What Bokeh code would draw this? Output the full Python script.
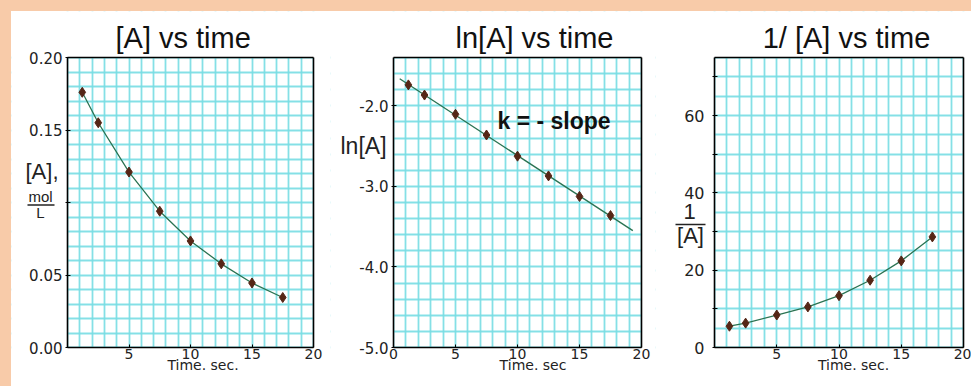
import numpy as np
from bokeh.plotting import figure
from bokeh.layouts import row, column
from bokeh.models import (Range1d, FixedTicker, PrintfTickFormatter, Label, Arrow, Spacer,
                          LinearAxis, BoxAnnotation)
from bokeh.embed import file_html
from bokeh.resources import INLINE

# ---- data ----
time_s = [1.2, 2.5, 5, 7.5, 10, 12.5, 15, 17.5]
conc_A = [0.176, 0.155, 0.121, 0.094, 0.0735, 0.0577, 0.0445, 0.0345]
ln_A = [-1.74, -1.866, -2.105, -2.362, -2.625, -2.87, -3.125, -3.362]
inv_A = [5.5, 6.3, 8.4, 10.5, 13.4, 17.4, 22.4, 28.6]
fit_t = [0.5, 19.3]

titles = ["[A]  vs time", "ln[A] vs time", "1/ [A] vs time"]
x_label_texts = ["Time. sec.", "Time. sec", "Time. sec."]

PEACH = "#F8CBA9"
GRID = "#78DDE3"
LINE = "#2A7352"
MARK = "#552616"
TICKFONT = "DejaVu Sans"
SANS = "Liberation Sans"
TOP_PAD, FIG_H = 11, 375
BOX_TOP, BOX_BOTTOM = 57, 347   # page pixels of the plot box


class Panel:
    def __init__(self, fig_left, width, box_l, box_r, box_x, box_y, ygrid_step,
                 xticks, yticks, yfmt, y_overrides, ytick_size="15px", ystandoff=3):
        self.fig_left, self.width = fig_left, width
        self.box_l, self.box_r = box_l, box_r
        self.bx, self.by = box_x, box_y
        sx = (box_x[1] - box_x[0]) / (box_r - box_l)
        sy = (box_y[1] - box_y[0]) / (BOX_BOTTOM - BOX_TOP)
        self.dx = lambda X: box_x[0] + (X - box_l) * sx
        self.dy = lambda Y: box_y[1] + (BOX_TOP - Y) * sy
        p = figure(width=width, height=FIG_H, output_backend="svg", toolbar_location=None,
                   x_range=Range1d(self.dx(fig_left), self.dx(fig_left + width)),
                   y_range=Range1d(self.dy(TOP_PAD + FIG_H), self.dy(TOP_PAD)),
                   min_border=0, min_border_left=0, min_border_right=0,
                   min_border_top=0, min_border_bottom=0,
                   background_fill_color="white", border_fill_color="white")
        p.outline_line_color = None
        xr, yr = p.x_range, p.y_range
        # grid
        p.xgrid.ticker = FixedTicker(ticks=list(np.arange(box_x[0], box_x[1] + 1e-9, 1.0)))
        p.ygrid.ticker = FixedTicker(ticks=list(np.arange(box_y[0], box_y[1] + 1e-9, ygrid_step)))
        for g in (p.xgrid, p.ygrid):
            g.grid_line_color = GRID
            g.grid_line_width = 1.8
            g.grid_line_alpha = 0.9
        # white masks outside the plot box
        masks = [dict(left=xr.start, right=box_x[0], bottom=yr.start, top=yr.end),
                 dict(left=box_x[1], right=xr.end, bottom=yr.start, top=yr.end),
                 dict(left=xr.start, right=xr.end, bottom=yr.start, top=box_y[0]),
                 dict(left=xr.start, right=xr.end, bottom=box_y[1], top=yr.end)]
        for m in masks:
            p.add_layout(BoxAnnotation(**m, fill_color="white", fill_alpha=1.0,
                                       line_color=None, level="glyph"))
        # axes at the box edges
        p.xaxis.fixed_location = box_y[0]
        p.xaxis.bounds = box_x
        p.yaxis.fixed_location = box_x[0]
        p.yaxis.bounds = box_y
        p.xaxis.ticker = FixedTicker(ticks=xticks)
        p.yaxis.ticker = FixedTicker(ticks=yticks)
        p.yaxis.formatter = PrintfTickFormatter(format=yfmt)
        if y_overrides:
            p.yaxis.major_label_overrides = y_overrides
        for ax in (p.xaxis, p.yaxis):
            ax.axis_line_color = "black"
            ax.axis_line_width = 1.6
            ax.major_tick_line_color = "black"
            ax.minor_tick_line_color = None
            ax.major_label_text_font = TICKFONT
            ax.major_label_text_color = "#222222"
        p.xaxis.major_tick_out = 0
        p.xaxis.major_tick_in = 3
        p.yaxis.major_tick_out = 2
        p.yaxis.major_tick_in = 3
        p.xaxis.major_label_text_font_size = "14px"
        p.yaxis.major_label_text_font_size = ytick_size
        p.xaxis.major_label_standoff = 1
        p.yaxis.major_label_standoff = ystandoff
        top_ax = LinearAxis(fixed_location=box_y[1], bounds=box_x, ticker=FixedTicker(ticks=[]),
                            major_label_text_font_size="0px", axis_line_width=1.6,
                            minor_tick_line_color=None, major_tick_line_color=None)
        right_ax = LinearAxis(fixed_location=box_x[1], bounds=box_y, ticker=FixedTicker(ticks=[]),
                              major_label_text_font_size="0px", axis_line_width=1.6,
                              minor_tick_line_color=None, major_tick_line_color=None)
        p.add_layout(top_ax, "above")
        p.add_layout(right_ax, "right")
        self.p = p

    def text(self, X, Y, s, font=SANS, size=20, align="left", style="normal", color="#222222"):
        # Y is the wanted baseline in page pixels
        yb = Y - 0.32 * size
        self.p.add_layout(Label(x=self.dx(X), y=self.dy(yb), text=s, text_font=font,
                                text_font_size=f"{size}px", text_align=align,
                                text_font_style=style, text_baseline="alphabetic",
                                text_color=color))

    def bar(self, X1, X2, Y, width=1.2):
        self.p.add_layout(Arrow(x_start=self.dx(X1), y_start=self.dy(Y), x_end=self.dx(X2),
                                y_end=self.dy(Y), start=None, end=None,
                                line_color="#222222", line_width=width))


# Panel 1: [A] vs time
P1 = Panel(11, 319, 67, 313, (0, 20), (0, 0.2), 0.01, [5, 10, 15, 20],
           [0, 0.05, 0.1, 0.15, 0.2], "%.2f", {0.1: ""})
p1 = P1.p
p1.line(time_s, conc_A, line_color=LINE, line_width=1.3)
p1.scatter(time_s, conc_A, marker="diamond", size=10, color=MARK)
P1.text(186.7, 47, titles[0], size=29, align="center", color="#111111")
P1.text(25, 178, "[A],", size=22)
P1.text(40, 201, "mol", size=15, align="center")
P1.bar(27, 54, 204.5, 1.4)
P1.text(40, 217, "L", size=15, align="center")
P1.text(202.5, 369, x_label_texts[0], font=TICKFONT, size=14, align="center")

# Panel 2: ln[A] vs time
P2 = Panel(330, 325, 393, 641, (0, 20), (-5, -1.4), 0.2, [0, 5, 10, 15, 20],
           [-5, -4, -3, -2], "%.1f", None)
p2 = P2.p
slope, intercept = np.polyfit(time_s, ln_A, 1)
fit_ln = [slope * t + intercept for t in fit_t]
p2.line(fit_t, fit_ln, line_color=LINE, line_width=1.3)
p2.scatter(time_s, ln_A, marker="diamond", size=10, color=MARK)
P2.text(534, 47, titles[1], size=29, align="center", color="#111111")
P2.text(340, 153, "ln[A]", size=23)
P2.text(497, 128, "k = - slope", size=23, style="bold", color="#111111")
P2.text(532.5, 369, x_label_texts[1], font=TICKFONT, size=14, align="center")

# Panel 3: 1/[A] vs time
P3 = Panel(655, 316, 714, 963, (0, 20), (0, 75), 5, [5, 10, 15, 20],
           [0, 10, 20, 30, 40, 50, 60, 70], "%d", {10: "", 30: "", 50: "", 70: ""},
           ytick_size="16px", ystandoff=8)
p3 = P3.p
p3.line(time_s, inv_A, line_color=LINE, line_width=1.3)
p3.scatter(time_s, inv_A, marker="diamond", size=10, color=MARK)
P3.text(846, 47, titles[2], size=29, align="center", color="#111111")
P3.text(689, 218, "1", size=22, align="center")
P3.bar(675, 705, 224, 1.4)
P3.text(690, 242, "[A]", size=22, align="center")
P3.text(853, 369, x_label_texts[2], font=TICKFONT, size=14, align="center")

top = Spacer(width=971, height=TOP_PAD, styles={"background-color": PEACH})
left = Spacer(width=11, height=FIG_H, styles={"background-color": PEACH})
layout = column(top, row(left, p1, p2, p3))

open("out.html", "w").write(file_html(layout, INLINE))
